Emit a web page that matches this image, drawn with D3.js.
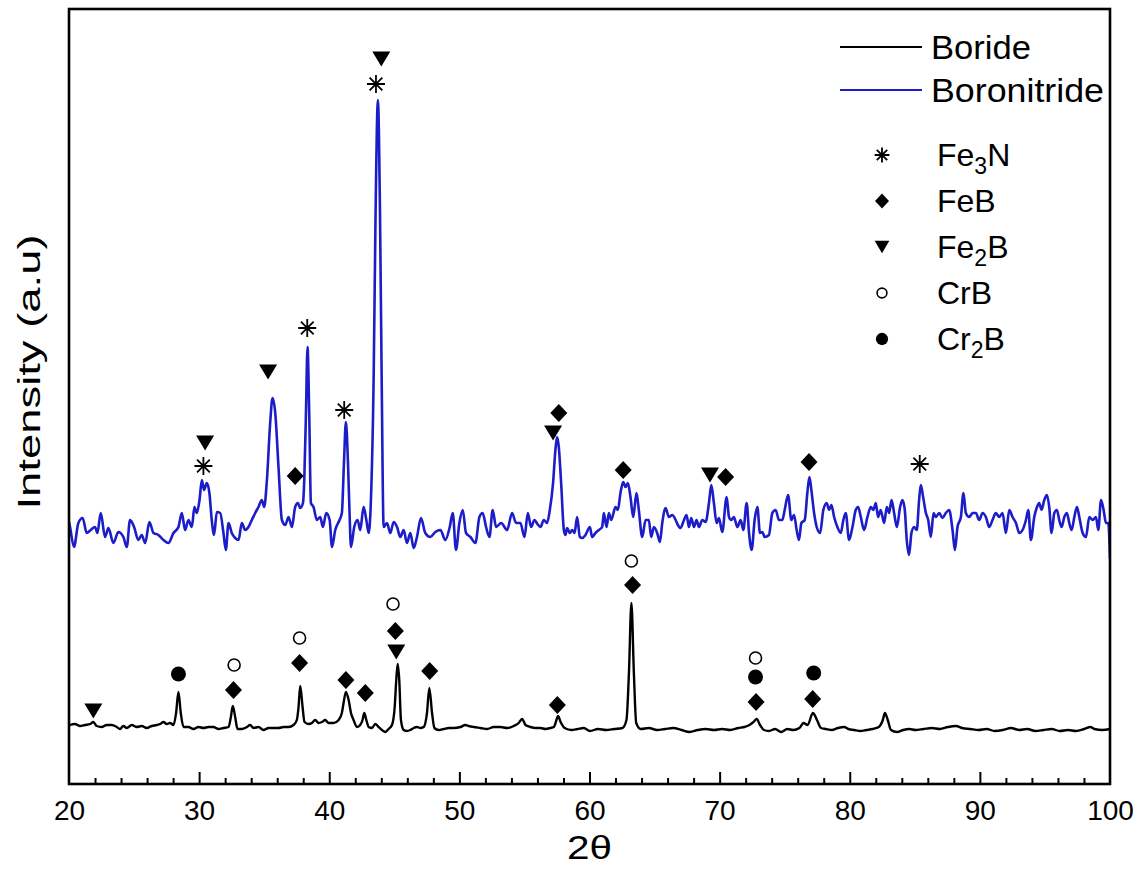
<!DOCTYPE html>
<html><head><meta charset="utf-8">
<script src="https://cdn.jsdelivr.net/npm/d3@7"></script>
<style>
body{margin:0;background:#fff}
text{font-family:"Liberation Sans",Arial,sans-serif;fill:#000}
</style>
</head><body><svg id="chart" width="1137" height="870"></svg>
<script>
// ---------- DATA ----------
const boronitrideTheta = [20.0,20.08,20.38,20.72,21.05,21.36,21.67,22.0,22.18,22.44,22.77,23.03,23.41,23.79,24.18,24.44,24.69,25.0,25.33,25.59,25.85,26.18,26.49,26.87,27.26,27.64,28.03,28.41,28.67,28.92,29.18,29.44,29.64,29.82,30.03,30.21,30.38,30.59,30.79,30.97,31.15,31.36,31.62,31.87,32.05,32.26,32.51,32.77,33.03,33.28,33.54,33.79,34.05,34.31,34.56,34.82,35.0,35.21,35.46,35.64,35.85,36.1,36.36,36.62,36.87,37.13,37.38,37.59,37.77,37.98,
38.08,38.21,38.33,38.46,38.59,38.79,39.05,39.31,39.51,39.77,40.03,40.21,40.46,40.79,40.97,41.13,41.28,41.44,41.56,41.67,41.92,42.18,42.38,42.64,42.85,43.03,43.21,43.41,43.56,43.74,43.9,44.03,
44.18,44.44,44.69,44.95,45.21,45.46,45.72,45.97,46.23,46.49,46.74,47.05,47.38,47.77,48.15,48.54,48.92,49.26,49.49,49.74,50.0,50.26,50.51,50.85,51.23,51.54,51.79,52.05,52.31,52.56,52.82,53.21,53.67,54.05,54.36,54.69,55.0,55.26,55.51,55.77,56.0,
56.23,56.49,56.74,56.95,57.2,57.38,57.51,57.64,57.82,58.03,58.15,58.28,58.49,58.67,58.85,59.05,59.26,59.44,59.69,60.03,60.2,60.46,60.72,60.97,61.1,61.31,61.49,61.67,62.0,62.18,62.38,62.59,62.77,62.95,63.15,63.36,63.61,63.79,64.05,64.31,64.56,64.74,64.95,65.2,65.41,65.59,65.85,66.1,66.36,66.62,66.79,67.0,67.26,67.46,67.64,67.82,68.03,68.23,68.41,68.67,68.92,69.18,69.36,69.56,69.77,69.95,70.2,70.54,70.72,70.9,71.1,71.36,71.62,71.82,72.08,72.26,72.46,72.69,72.9,73.1,73.28,73.46,73.79,74.05,74.31,74.56,74.82,75.0,75.26,75.51,75.72,75.92,76.1,76.28,76.54,76.74,76.9,77.05,77.26,77.46,77.72,
77.97,78.23,78.41,78.59,78.8,79.05,79.31,79.51,79.69,79.95,80.21,80.46,80.64,80.85,81.1,81.36,81.62,81.82,82.0,82.18,82.38,82.64,82.85,83.03,83.21,83.41,83.62,83.87,84.05,84.23,84.38,84.56,84.74,84.95,85.15,85.33,85.46,85.64,85.85,86.03,86.23,86.44,86.62,86.87,87.13,87.38,87.64,87.9,88.08,88.28,88.54,88.74,88.92,89.18,89.44,89.69,89.95,90.21,90.46,90.72,90.97,91.23,91.49,91.74,92.0,92.26,92.51,92.77,93.03,93.28,93.54,93.72,93.92,94.18,94.39,94.56,94.74,94.95,95.15,95.33,95.51,95.72,95.92,96.1,96.28,96.49,96.69,96.87,97.05,97.26,97.46,97.64,97.9,98.15,98.41,98.67,98.92,99.1,99.31,99.51,99.69,99.87,100.0];
const boronitrideIntensity = [262,257,237,261,266,251,254,257,251,271,247,256,241,252,247,237,264,257,244,249,241,262,251,249,244,241,251,257,271,254,264,257,277,271,284,304,294,301,291,264,249,272,271,251,234,261,251,246,244,261,254,257,264,271,277,284,277,304,361,386,371,317,264,259,267,257,277,281,276,281,
304,371,437,371,281,277,264,267,257,271,264,237,254,264,271,321,362,321,271,237,257,264,254,277,264,251,287,404,571,684,571,404,
257,261,251,262,257,247,254,241,251,236,247,266,251,247,252,254,244,257,271,234,261,274,251,247,241,267,271,257,247,274,257,261,254,271,261,261,247,271,257,264,260,
257,264,261,274,301,334,347,337,301,254,249,256,251,254,251,267,247,246,249,257,247,251,254,257,271,257,271,264,277,274,291,302,297,301,287,267,291,274,247,264,264,247,257,251,242,261,276,267,269,264,259,256,264,269,257,266,257,264,257,264,262,281,299,281,261,266,252,287,267,264,267,257,264,254,281,251,234,264,277,251,252,247,249,271,274,264,264,274,289,264,269,254,244,261,264,291,307,294,271,257,251,
274,281,274,279,267,257,251,264,271,244,257,274,277,267,254,267,277,274,281,267,274,261,277,271,284,271,257,277,284,274,244,229,251,257,254,284,299,287,271,264,247,271,267,271,266,271,274,254,234,257,267,291,271,267,271,271,264,271,267,257,264,271,267,271,251,274,267,261,251,254,264,274,244,267,277,281,274,284,289,277,251,271,274,264,257,267,271,261,254,267,277,267,251,247,267,264,267,254,284,274,261,261,225];

const borideTheta = [20.0,20.08,20.46,20.85,21.23,21.62,21.87,22.13,22.51,22.9,23.28,23.67,23.92,24.18,24.44,24.82,25.21,25.59,25.97,26.36,26.74,27.0,27.26,27.51,27.77,28.03,28.23,28.41,28.59,28.8,29.18,29.56,29.95,30.33,30.72,31.1,31.49,31.87,32.26,32.44,32.59,32.77,32.95,33.28,33.67,33.92,34.18,34.56,34.95,35.33,35.72,36.1,36.49,36.87,37.26,37.51,37.64,37.77,37.95,38.1,38.41,38.67,38.92,39.18,39.44,39.69,39.95,40.33,40.72,40.97,41.1,41.28,41.49,41.67,41.87,42.13,42.38,42.56,42.69,42.85,43.03,43.28,43.54,43.79,44.05,44.31,44.56,44.82,45.03,45.15,45.26,45.38,45.51,45.72,45.97,46.23,46.49,46.74,47.0,47.26,47.51,47.69,47.9,48.08,48.41,48.8,49.18,49.56,50.08,50.46,50.72,51.1,51.62,52.13,52.64,53.15,53.67,54.18,54.56,54.82,55.08,55.46,55.85,56.23,56.62,57.0,57.26,57.46,57.58,57.78,58.09,58.62,59.09,59.56,60.03,60.65,61.28,61.9,62.53,62.84,63.03,63.22,63.41,63.59,63.94,64.56,65.19,65.81,66.44,67.07,67.69,68.32,68.94,69.57,70.19,70.82,71.44,71.91,72.29,72.6,72.85,73.1,73.41,73.79,74.26,74.73,75.2,75.66,76.13,76.45,76.76,77.17,77.48,77.79,78.17,78.63,79.1,79.57,79.89,80.35,80.82,81.29,81.76,82.23,82.54,82.7,82.92,83.17,83.64,84.11,84.58,85.05,85.67,86.3,86.92,87.55,88.17,88.64,89.27,89.89,90.52,91.14,91.77,92.39,93.02,93.64,94.27,94.89,95.52,96.14,96.77,97.39,98.02,98.49,98.8,99.42,100.0];
const borideIntensity = [58,59,60,58,59,60,62,58,57,59,59,57,55,58,56,59,57,58,56,58,59,60,62,60,61,59,71,92,71,57,57,55,57,56,57,57,55,56,57,67,78,67,55,55,57,59,56,57,54,56,56,56,57,57,59,64,77,98,77,62,60,61,64,61,62,64,61,61,64,71,81,92,84,71,64,57,59,64,71,64,57,56,60,57,54,52,55,59,77,104,120,104,64,54,53,54,56,57,56,57,71,96,71,56,54,55,56,56,57,59,58,57,56,55,57,57,56,58,61,65,59,57,56,56,55,56,57,64,68,62,56,54,55,56,53,55,54,55,56,64,111,181,111,61,55,56,54,55,56,54,52,54,55,54,55,54,56,57,59,62,65,59,54,53,55,52,55,54,56,61,59,71,64,56,55,54,56,57,55,54,53,54,55,57,64,71,64,54,52,54,55,54,55,56,55,57,58,56,55,54,55,53,54,56,54,55,53,54,55,53,54,53,55,57,55,54,55];

// phase markers placed over the peaks
const markerPhase = ["Fe2B","Fe3N","Fe2B","FeB","Fe3N","Fe3N","Fe3N","Fe2B","FeB","Fe2B","FeB","Fe2B","FeB","FeB","Fe3N",
  "Fe2B","Cr2B","CrB","FeB","CrB","FeB","FeB","FeB","CrB","FeB","Fe2B","FeB","FeB","CrB","FeB","CrB","Cr2B","FeB","Cr2B","FeB"];
const markerTheta = [30.46,30.33,35.3,37.38,38.31,41.15,43.59,44.0,57.64,57.2,62.59,69.26,70.46,76.87,85.38,
  21.87,28.41,32.69,32.64,37.72,37.72,41.28,42.77,44.9,45.08,45.15,47.72,57.53,63.22,63.31,72.76,72.76,72.8,77.23,77.15];
const markerIntensity = [341,318,412,308,456,374,700,725,371,351,314,309,307,322,320,
  73,110,119,94,146,121,104,91,180,153,132,113,79,223,199,126,107,82,111,85];

const seriesNames = ["Boride","Boronitride"];
const seriesColors = ["#000000","#1c1cc8"];
const legendPhases = ["Fe3N","FeB","Fe2B","CrB","Cr2B"];
const legendLabels = [["Fe","3","N"],["FeB","",""],["Fe","2","B"],["CrB","",""],["Cr","2","B"]];

const xMajorTicks = [20,30,40,50,60,70,80,90,100];
const xMinorTicks = [22,24,26,28,32,34,36,38,42,44,46,48,52,54,56,58,62,64,66,68,72,74,76,78,82,84,86,88,92,94,96,98];

// ---------- CHART ----------
const svg = d3.select("#chart");
const W = 1137, H = 870;
const L = 69, R = 1110, T = 9, B = 784;
svg.append("rect").attr("width",W).attr("height",H).attr("fill","#fff");

const x = d3.scaleLinear().domain([20,100]).range([L,R]);
const y = d3.scaleLinear().domain([0,775]).range([B,T]);

const line = d3.line().x(d=>x(d[0])).y(d=>y(d[1])).curve(d3.curveMonotoneX);

const boride = borideTheta.map((t,i)=>[t,borideIntensity[i]]);
const boronitride = boronitrideTheta.map((t,i)=>[t,boronitrideIntensity[i]]);

svg.append("defs").append("clipPath").attr("id","clip").append("rect")
  .attr("x",L).attr("y",T).attr("width",R-L).attr("height",B-T);

const plot = svg.append("g").attr("clip-path","url(#clip)");
plot.append("path").datum(boronitride).attr("d",line)
  .attr("fill","none").attr("stroke",seriesColors[1]).attr("stroke-width",2.6).attr("stroke-linejoin","round");
plot.append("path").datum(boride).attr("d",line)
  .attr("fill","none").attr("stroke",seriesColors[0]).attr("stroke-width",2.4).attr("stroke-linejoin","round");

// symbol types
function symType(phase, s){
  if(phase==="Fe3N") return {draw(c){ const r=9*s;
      for(const a of [90,45,135,0]){ const rad=a*Math.PI/180; const dx=r*Math.cos(rad), dy=r*Math.sin(rad);
        c.moveTo(-dx,-dy); c.lineTo(dx,dy);} }};
  if(phase==="FeB") return {draw(c){ const rx=8.5*s, ry=9*s; c.moveTo(0,-ry); c.lineTo(rx,0); c.lineTo(0,ry); c.lineTo(-rx,0); c.closePath(); }};
  if(phase==="Fe2B") return {draw(c){ const w=9*s, h=7.5*s; c.moveTo(-w,-h); c.lineTo(w,-h); c.lineTo(0,h); c.closePath(); }};
  if(phase==="CrB") return {draw(c){ const r=6*s; c.moveTo(r,0); c.arc(0,0,r,0,2*Math.PI); }};
  return {draw(c){ const r=7.5*s; c.moveTo(r,0); c.arc(0,0,r,0,2*Math.PI); }};
}
function styleSym(sel, phase){
  if(phase==="Fe3N") sel.attr("fill","none").attr("stroke","#000").attr("stroke-width",1.8);
  else if(phase==="CrB") sel.attr("fill","#fff").attr("stroke","#000").attr("stroke-width",1.6);
  else sel.attr("fill","#000").attr("stroke","none");
}

const mk = svg.append("g");
markerPhase.forEach((p,i)=>{
  const s = mk.append("path")
    .attr("d", d3.symbol().type(symType(p,1))())
    .attr("transform",`translate(${x(markerTheta[i])},${y(markerIntensity[i])})`);
  styleSym(s,p);
});

// axes
const xAxis = d3.axisBottom(x).tickValues(xMajorTicks).tickSize(-12).tickPadding(16).tickFormat(d3.format("d"));
const gx = svg.append("g").attr("transform",`translate(0,${B})`).call(xAxis);
gx.select(".domain").remove();
gx.selectAll(".tick line").attr("stroke","#000").attr("stroke-width",2);
gx.selectAll(".tick text").attr("font-size",28).attr("font-family","Liberation Sans, Arial, sans-serif").attr("fill","#000");
gx.selectAll(".tick").filter(d=>d===20||d===100).select("line").remove();

const xMinor = d3.axisBottom(x).tickValues(xMinorTicks).tickSize(-6).tickFormat("");
const gxm = svg.append("g").attr("transform",`translate(0,${B})`).call(xMinor);
gxm.select(".domain").remove();
gxm.selectAll(".tick line").attr("stroke","#000").attr("stroke-width",2);

// frame
svg.append("rect").attr("x",L).attr("y",T).attr("width",R-L).attr("height",B-T)
  .attr("fill","none").attr("stroke","#000").attr("stroke-width",2.6);

// axis titles
svg.append("text").attr("x",(L+R)/2).attr("y",859).attr("text-anchor","middle")
  .attr("font-size",34).attr("textLength",45).attr("lengthAdjust","spacingAndGlyphs").text("2θ");
svg.append("text").attr("transform",`translate(40,372) rotate(-90)`).attr("text-anchor","middle")
  .attr("font-size",32).attr("textLength",275).attr("lengthAdjust","spacingAndGlyphs").text("Intensity (a.u)");

// legend
const lg = svg.append("g");
const seriesLabelWidths = [100,173];
seriesNames.forEach((n,i)=>{
  const yy = 47 + i*43;
  lg.append("line").attr("x1",840).attr("x2",922).attr("y1",yy).attr("y2",yy)
    .attr("stroke",seriesColors[i]).attr("stroke-width",2);
  lg.append("text").attr("x",931).attr("y",yy+12).attr("font-size",33)
    .attr("textLength",seriesLabelWidths[i]).attr("lengthAdjust","spacingAndGlyphs").text(n);
});
legendPhases.forEach((p,i)=>{
  const yy = 155 + i*46;
  const s = lg.append("path").attr("d",d3.symbol().type(symType(p,0.82))())
    .attr("transform",`translate(882,${yy})`);
  styleSym(s,p);
  const t = lg.append("text").attr("x",937).attr("y",yy+11).attr("font-size",32);
  const parts = legendLabels[i];
  t.append("tspan").text(parts[0]);
  if(parts[1]){
    t.append("tspan").attr("dy",8).attr("font-size",23).text(parts[1]);
    t.append("tspan").attr("dy",-8).text(parts[2]);
  }
});
</script>
</body></html>
